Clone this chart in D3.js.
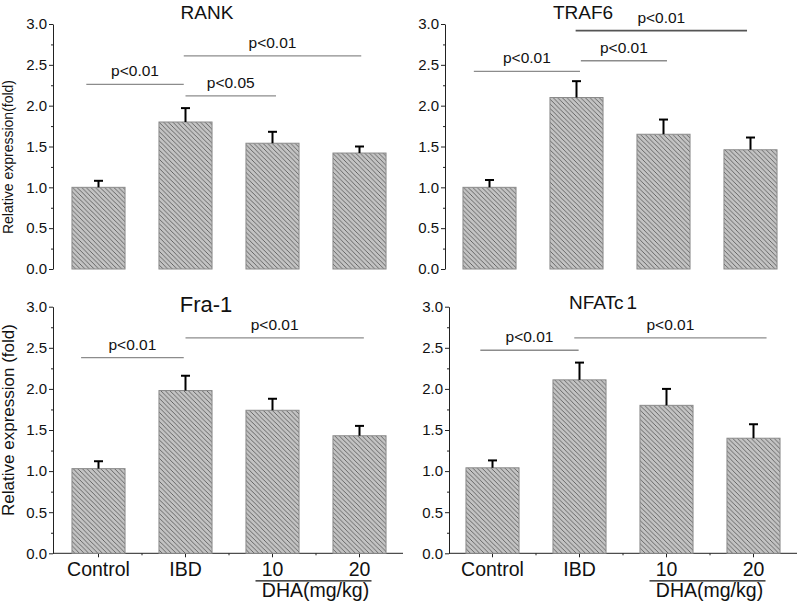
<!DOCTYPE html>
<html><head><meta charset="utf-8">
<script src="https://cdn.jsdelivr.net/npm/d3@7"></script>
<style>body{margin:0;background:#fff}svg{display:block;font-family:"Liberation Sans",Arial,sans-serif}</style>
</head><body><svg id="c" width="800" height="604"></svg>
<script>
// ---- data ----
const categories = ["Control", "IBD", "10", "20"];
const yTicks = [0, 0.5, 1.0, 1.5, 2.0, 2.5, 3.0];
const yMinorTicks = [0.25, 0.75, 1.25, 1.75, 2.25, 2.75];

const rankMean = [1.00, 1.80, 1.54, 1.42];
const rankErr  = [0.08, 0.17, 0.14, 0.08];
const traf6Mean = [1.00, 2.10, 1.65, 1.46];
const traf6Err  = [0.09, 0.20, 0.18, 0.15];
const fra1Mean = [1.03, 1.98, 1.74, 1.43];
const fra1Err  = [0.09, 0.18, 0.14, 0.12];
const nfatMean = [1.04, 2.11, 1.80, 1.40];
const nfatErr  = [0.09, 0.21, 0.20, 0.17];

// significance brackets: start/end in category-index units, level in y units
const rankSigStart = [-0.14, 1.00, 0.98];
const rankSigEnd   = [0.98, 2.04, 3.02];
const rankSigLevel = [2.26, 2.12, 2.61];
const rankSigLabel = ["p<0.01", "p<0.05", "p<0.01"];

const traf6SigStart = [-0.18, 1.05, 0.99];
const traf6SigEnd   = [1.04, 2.04, 2.96];
const traf6SigLevel = [2.42, 2.55, 2.92];
const traf6SigLabel = ["p<0.01", "p<0.01", "p<0.01"];

const fra1SigStart = [-0.20, 1.00];
const fra1SigEnd   = [0.98, 3.05];
const fra1SigLevel = [2.38, 2.62];
const fra1SigLabel = ["p<0.01", "p<0.01"];

const nfatSigStart = [-0.14, 0.94];
const nfatSigEnd   = [0.99, 3.15];
const nfatSigLevel = [2.47, 2.62];
const nfatSigLabel = ["p<0.01", "p<0.01"];

const groupLabel = "DHA(mg/kg)";

// ---- drawing ----
const svg = d3.select("#c");
const defs = svg.append("defs");
const pat = defs.append("pattern").attr("id", "hatch")
  .attr("patternUnits", "userSpaceOnUse").attr("width", 4.6).attr("height", 4.6);
pat.append("rect").attr("width", 4.6).attr("height", 4.6).attr("fill", "#c3c3c3");
pat.append("path").attr("d", "M0,0L4.6,4.6M-1,3.6L1,5.6M3.6,-1L5.6,1")
  .attr("stroke", "#505050").attr("stroke-width", 0.8);

const panels = [
  {title: "RANK", mean: rankMean, err: rankErr,
   sig: [rankSigStart, rankSigEnd, rankSigLevel, rankSigLabel], sigDark: [false, false, false],
   ax: 53, bx: 55, top: 24, bottom: 269, tx: 207, ty: 19, tsize: 19,
   ylabel: "Relative expression(fold)", lx: 13, ly: 157, lsize: 14, xaxis: false},
  {title: "TRAF6", mean: traf6Mean, err: traf6Err,
   sig: [traf6SigStart, traf6SigEnd, traf6SigLevel, traf6SigLabel], sigDark: [false, false, true],
   ax: 445, bx: 446, top: 24, bottom: 269, tx: 583, ty: 19, tsize: 19,
   ylabel: null, xaxis: false},
  {title: "Fra-1", mean: fra1Mean, err: fra1Err,
   sig: [fra1SigStart, fra1SigEnd, fra1SigLevel, fra1SigLabel], sigDark: [false, false],
   ax: 53, bx: 55, top: 306.7, bottom: 553.3, tx: 206, ty: 312, tsize: 22,
   ylabel: "Relative expression (fold)", lx: 14, ly: 420, lsize: 17, xaxis: true, axEnd: 403},
  {title: "NFATc", titleSub: "1", mean: nfatMean, err: nfatErr,
   sig: [nfatSigStart, nfatSigEnd, nfatSigLevel, nfatSigLabel], sigDark: [false, false],
   ax: 449, bx: 449, top: 306.7, bottom: 553.3, tx: 603, ty: 309, tsize: 19,
   ylabel: null, xaxis: true, axEnd: 797}
];

panels.forEach(p => {
  const g = svg.append("g");
  const x = d3.scaleBand().domain(categories).range([p.bx, p.bx + 348])
    .paddingInner(0.39).paddingOuter(0.195);
  const y = d3.scaleLinear().domain([0, 3]).range([p.bottom, p.top]);
  const cx = i => x(categories[0]) + x.bandwidth() / 2 + i * x.step();

  // y axis
  const ya = g.append("g").attr("transform", `translate(${p.ax},0)`)
    .call(d3.axisLeft(y).tickValues(yTicks).tickFormat(d3.format(".1f")).tickSize(4).tickSizeOuter(0).tickPadding(2));
  ya.select(".domain").attr("stroke", "#222");
  ya.selectAll(".tick line").attr("stroke", "#222");
  ya.selectAll(".tick text").attr("font-size", 15).attr("fill", "#111")
    .attr("font-family", '"Liberation Sans",Arial,sans-serif');
  const ym = g.append("g").attr("transform", `translate(${p.ax},0)`)
    .call(d3.axisLeft(y).tickValues(yMinorTicks).tickFormat("").tickSize(2).tickSizeOuter(0));
  ym.select(".domain").remove();
  ym.selectAll(".tick line").attr("stroke", "#222");

  // x axis
  if (p.xaxis) {
    g.append("line").attr("x1", p.ax).attr("x2", p.axEnd)
      .attr("y1", p.bottom).attr("y2", p.bottom).attr("stroke", "#222");
    const xa = g.append("g").attr("transform", `translate(0,${p.bottom})`)
      .call(d3.axisBottom(x).tickSize(4).tickSizeOuter(0).tickPadding(5));
    xa.select(".domain").remove();
    xa.selectAll(".tick line").attr("stroke", "#222");
    xa.selectAll(".tick text").attr("font-size", 19.5).attr("fill", "#111")
      .attr("font-family", '"Liberation Sans",Arial,sans-serif');
    // minor ticks between categories
    const minor = d3.range(1, categories.length).map(i => x(categories[i]) - x.step() * x.paddingInner() / 2);
    g.selectAll(".mt").data(minor).join("line")
      .attr("x1", d => d).attr("x2", d => d)
      .attr("y1", p.bottom).attr("y2", p.bottom + 2).attr("stroke", "#222");
    // group underline + label
    const u1 = cx(2) - 17, u2 = cx(3) + 12;
    g.append("line").attr("x1", u1).attr("x2", u2)
      .attr("y1", p.bottom + 27.5).attr("y2", p.bottom + 27.5).attr("stroke", "#111").attr("stroke-width", 1.2);
    g.append("text").attr("x", (u1 + u2) / 2 + 2).attr("y", p.bottom + 44)
      .attr("text-anchor", "middle").attr("font-size", 19.5).attr("fill", "#111")
      .text(groupLabel);
  }

  // bars
  g.selectAll(".bar").data(p.mean).join("rect")
    .attr("x", (d, i) => x(categories[i])).attr("width", x.bandwidth())
    .attr("y", d => y(d)).attr("height", d => y(0) - y(d))
    .attr("fill", "url(#hatch)").attr("stroke", "#8a8a8a").attr("stroke-width", 1);

  // error bars (upper)
  p.mean.forEach((m, i) => {
    const c = cx(i);
    g.append("line").attr("x1", c).attr("x2", c).attr("y1", y(m)).attr("y2", y(m + p.err[i]))
      .attr("stroke", "#000").attr("stroke-width", 2);
    g.append("line").attr("x1", c - 4.5).attr("x2", c + 4.5)
      .attr("y1", y(m + p.err[i])).attr("y2", y(m + p.err[i]))
      .attr("stroke", "#000").attr("stroke-width", 2);
  });

  // significance
  const [ss, se, sl, slab] = p.sig;
  ss.forEach((s, i) => {
    const x1 = cx(0) + s * x.step(), x2 = cx(0) + se[i] * x.step();
    g.append("line").attr("x1", x1).attr("x2", x2).attr("y1", y(sl[i])).attr("y2", y(sl[i]))
      .attr("stroke", p.sigDark[i] ? "#555" : "#8c8c8c").attr("stroke-width", p.sigDark[i] ? 1.8 : 1.3);
    g.append("text").attr("x", (x1 + x2) / 2).attr("y", y(sl[i]) - 8)
      .attr("text-anchor", "middle").attr("font-size", 15.5).attr("fill", "#111").text(slab[i]);
  });

  // title
  const t = g.append("text").attr("x", p.tx).attr("y", p.ty).attr("text-anchor", "middle")
    .attr("font-size", p.tsize).attr("fill", "#111").text(p.title);
  if (p.titleSub) t.append("tspan").attr("dx", 3).text(p.titleSub);

  // y label
  if (p.ylabel) {
    g.append("text").attr("transform", `translate(${p.lx},${p.ly}) rotate(-90)`)
      .attr("text-anchor", "middle").attr("font-size", p.lsize).attr("fill", "#111").text(p.ylabel);
  }
});
</script></body></html>
